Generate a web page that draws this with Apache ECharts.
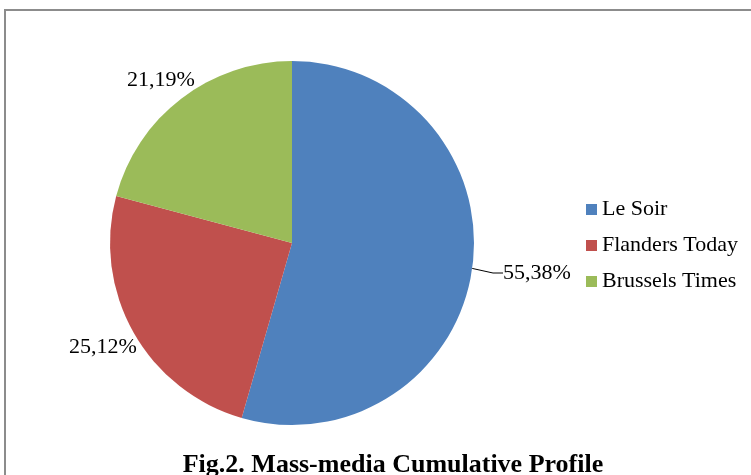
<!DOCTYPE html>
<html>
<head>
<meta charset="utf-8">
<script src="https://cdn.jsdelivr.net/npm/echarts@6/dist/echarts.min.js"></script>
<style>
  html, body { margin: 0; padding: 0; background: #fff; }
  #main { width: 751px; height: 475px; }
</style>
</head>
<body>
<div id="main"></div>
<script>
const categories = ["Le Soir", "Flanders Today", "Brussels Times"];
const values = [55.38, 25.12, 21.19];
const colors = ["#4F81BD", "#C0504D", "#9BBB59"];
const chartTitle = "Fig.2. Mass-media Cumulative Profile";

// where each percentage label sits (Excel-style placement)
const labelSpots = [
  { x: 503, y: 273, line: true },
  { x: 69, y: 347, line: false },
  { x: 127, y: 80, line: false }
];

const serif = "'Liberation Serif', 'Times New Roman', serif";

const chart = echarts.init(document.getElementById("main"));

chart.setOption({
  animation: false,
  title: {
    text: chartTitle,
    left: 388,
    textAlign: "center",
    top: 447,
    textStyle: { fontFamily: serif, fontSize: 26, fontWeight: "bold", color: "#000" }
  },
  legend: {
    orient: "vertical",
    left: 581,
    top: 193,
    itemWidth: 11,
    itemHeight: 11,
    itemGap: 13,
    icon: "rect",
    data: categories,
    textStyle: { fontFamily: serif, fontSize: 22, lineHeight: 23, color: "#000", padding: [0, 0, 0, 0] }
  },
  graphic: [{
    type: "rect",
    shape: { x: 5, y: 10, width: 800, height: 500 },
    style: { fill: "none", stroke: "#8c8c8c", lineWidth: 2 },
    silent: true
  }],
  series: [{
    type: "pie",
    center: [292, 243],
    radius: 182,
    startAngle: 90,
    clockwise: true,
    data: categories.map((name, i) => ({
      name: name,
      value: values[i],
      itemStyle: { color: colors[i] },
      labelLine: { show: labelSpots[i].line }
    })),
    label: {
      position: "outside",
      formatter: p => values[p.dataIndex].toFixed(2).replace(".", ",") + "%",
      fontFamily: serif,
      fontSize: 22,
      color: "#000"
    },
    labelLine: {
      lineStyle: { color: "#000", width: 1 },
      length: 18,
      length2: 10
    },
    labelLayout: p => ({
      x: labelSpots[p.dataIndex].x,
      y: labelSpots[p.dataIndex].y,
      align: "left",
      verticalAlign: "middle"
    })
  }]
});
</script>
</body>
</html>
